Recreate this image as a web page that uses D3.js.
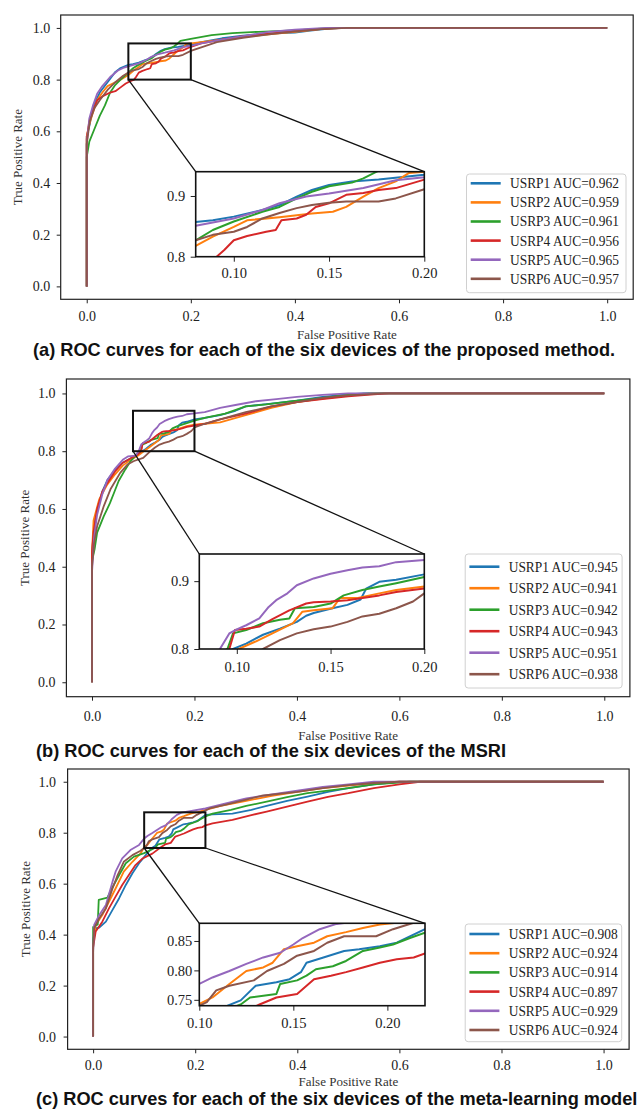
<!DOCTYPE html>
<html>
<head>
<meta charset="utf-8">
<script src="https://cdn.jsdelivr.net/npm/d3@7"></script>
<style>
  body { margin: 0; background: #fff; }
  svg { display: block; }
</style>
</head>
<body>
<script>
// size of the whole page
var svgWidth = 643;
var svgHeight = 1109;

// ---------- data ----------
var devices = ["USRP1", "USRP2", "USRP3", "USRP4", "USRP5", "USRP6"];
var colors = ["#1f77b4", "#ff7f0e", "#2ca02c", "#d62728", "#9467bd", "#8c564b"];

var aucA = [0.962, 0.959, 0.961, 0.956, 0.965, 0.957];
var aucB = [0.945, 0.941, 0.942, 0.943, 0.951, 0.938];
var aucC = [0.908, 0.924, 0.914, 0.897, 0.929, 0.924];

var captions = [
  "(a) ROC curves for each of the six devices of the proposed method.",
  "(b) ROC curves for each of the six devices of the MSRI",
  "(c) ROC curves for each of the six devices of the meta-learning model"
];

var mainTicks = [0.0, 0.2, 0.4, 0.6, 0.8, 1.0];
var zoomXTicks = [0.10, 0.15, 0.20];
var zoomYTicksAB = [0.8, 0.9];
var zoomYTicksC = [0.75, 0.80, 0.85];

// zoom windows [fpr range], [tpr range]
var zoomXA = [0.08, 0.20], zoomYA = [0.80, 0.94];
var zoomXB = [0.08, 0.20], zoomYB = [0.80, 0.94];
var zoomXC = [0.10, 0.22], zoomYC = [0.74, 0.88];

// ROC points [fpr, tpr], panel (a)
var rocA1 = [[0,0],[0,0.58],[0.005,0.62],[0.013,0.70],[0.025,0.75],[0.04,0.79],[0.055,0.83],[0.065,0.845],[0.08,0.857],[0.089,0.86],[0.10,0.866],[0.115,0.877],[0.124,0.885],[0.133,0.899],[0.141,0.91],[0.15,0.918],[0.162,0.924],[0.176,0.927],[0.2,0.935],[0.22,0.945],[0.26,0.96],[0.3,0.97],[0.35,0.978],[0.4,0.982],[0.43,0.99],[0.47,0.998],[0.5,1],[1,1]];
var rocA2 = [[0,0],[0,0.58],[0.004,0.62],[0.01,0.66],[0.02,0.72],[0.03,0.75],[0.04,0.775],[0.055,0.79],[0.065,0.80],[0.08,0.818],[0.089,0.833],[0.1,0.849],[0.107,0.86],[0.124,0.865],[0.141,0.871],[0.152,0.874],[0.159,0.882],[0.168,0.899],[0.176,0.913],[0.185,0.924],[0.192,0.938],[0.2,0.94],[0.22,0.945],[0.26,0.955],[0.3,0.965],[0.35,0.975],[0.4,0.985],[0.45,0.995],[0.48,1],[1,1]];
var rocA3 = [[0,0],[0,0.5],[0.005,0.56],[0.015,0.61],[0.025,0.66],[0.035,0.70],[0.045,0.75],[0.055,0.78],[0.065,0.80],[0.08,0.827],[0.089,0.844],[0.1,0.858],[0.115,0.874],[0.124,0.882],[0.133,0.896],[0.141,0.907],[0.15,0.916],[0.162,0.922],[0.168,0.929],[0.175,0.94],[0.18,0.95],[0.2,0.958],[0.24,0.972],[0.28,0.98],[0.33,0.985],[0.4,0.99],[0.45,0.997],[0.5,1],[1,1]];
var rocA4 = [[0,0],[0,0.57],[0.005,0.64],[0.012,0.68],[0.02,0.72],[0.03,0.735],[0.045,0.75],[0.055,0.755],[0.065,0.77],[0.075,0.785],[0.085,0.795],[0.091,0.8],[0.095,0.811],[0.1,0.827],[0.107,0.834],[0.117,0.841],[0.122,0.844],[0.125,0.86],[0.133,0.863],[0.138,0.869],[0.143,0.882],[0.15,0.888],[0.159,0.902],[0.168,0.905],[0.176,0.91],[0.185,0.913],[0.2,0.927],[0.22,0.94],[0.26,0.955],[0.3,0.968],[0.35,0.978],[0.4,0.988],[0.45,0.996],[0.5,1],[1,1]];
var rocA5 = [[0,0],[0,0.55],[0.005,0.65],[0.012,0.70],[0.02,0.745],[0.03,0.775],[0.045,0.81],[0.06,0.835],[0.07,0.845],[0.08,0.851],[0.1,0.863],[0.115,0.877],[0.124,0.888],[0.138,0.899],[0.15,0.904],[0.168,0.913],[0.185,0.926],[0.2,0.931],[0.22,0.94],[0.26,0.955],[0.3,0.968],[0.35,0.985],[0.4,0.993],[0.46,1],[1,1]];
var rocA6 = [[0,0],[0,0.55],[0.006,0.64],[0.015,0.69],[0.025,0.72],[0.04,0.76],[0.055,0.79],[0.07,0.815],[0.08,0.827],[0.089,0.836],[0.1,0.841],[0.107,0.849],[0.115,0.863],[0.124,0.872],[0.133,0.88],[0.141,0.885],[0.15,0.889],[0.159,0.891],[0.176,0.891],[0.185,0.896],[0.2,0.911],[0.22,0.925],[0.25,0.945],[0.3,0.962],[0.35,0.975],[0.4,0.987],[0.45,0.995],[0.5,1],[1,1]];

// panel (b)
var rocB1 = [[0,0],[0,0.45],[0.005,0.55],[0.01,0.6],[0.02,0.66],[0.03,0.7],[0.045,0.735],[0.06,0.76],[0.075,0.775],[0.09,0.79],[0.098,0.8],[0.105,0.808],[0.114,0.821],[0.123,0.83],[0.132,0.84],[0.137,0.849],[0.141,0.853],[0.151,0.86],[0.159,0.865],[0.166,0.873],[0.169,0.889],[0.176,0.899],[0.185,0.902],[0.2,0.91],[0.22,0.915],[0.25,0.925],[0.28,0.94],[0.3,0.955],[0.35,0.965],[0.4,0.975],[0.45,0.988],[0.5,0.997],[0.53,1],[1,1]];
var rocB2 = [[0,0],[0,0.45],[0.003,0.56],[0.007,0.587],[0.014,0.633],[0.03,0.685],[0.045,0.72],[0.06,0.75],[0.075,0.77],[0.09,0.785],[0.101,0.8],[0.11,0.811],[0.119,0.823],[0.13,0.838],[0.135,0.855],[0.141,0.857],[0.151,0.86],[0.155,0.875],[0.164,0.875],[0.176,0.882],[0.185,0.887],[0.2,0.892],[0.22,0.895],[0.25,0.9],[0.3,0.925],[0.35,0.95],[0.4,0.97],[0.45,0.982],[0.5,0.993],[0.55,1],[1,1]];
var rocB3 = [[0,0],[0,0.42],[0.005,0.46],[0.01,0.518],[0.023,0.575],[0.035,0.62],[0.043,0.656],[0.052,0.697],[0.065,0.737],[0.075,0.765],[0.085,0.785],[0.095,0.8],[0.098,0.823],[0.105,0.828],[0.114,0.838],[0.123,0.843],[0.128,0.845],[0.131,0.86],[0.141,0.862],[0.15,0.867],[0.157,0.879],[0.167,0.887],[0.176,0.892],[0.185,0.897],[0.2,0.906],[0.22,0.915],[0.26,0.93],[0.3,0.955],[0.34,0.962],[0.4,0.975],[0.45,0.985],[0.5,0.995],[0.54,1],[1,1]];
var rocB4 = [[0,0],[0,0.45],[0.003,0.52],[0.01,0.6],[0.02,0.66],[0.03,0.69],[0.045,0.73],[0.06,0.76],[0.075,0.775],[0.09,0.79],[0.096,0.8],[0.099,0.828],[0.105,0.83],[0.112,0.833],[0.119,0.844],[0.128,0.857],[0.137,0.867],[0.141,0.869],[0.15,0.87],[0.159,0.872],[0.167,0.875],[0.176,0.879],[0.185,0.884],[0.2,0.889],[0.22,0.895],[0.25,0.91],[0.3,0.93],[0.35,0.955],[0.4,0.97],[0.45,0.98],[0.5,0.99],[0.55,0.997],[0.58,1],[1,1]];
var rocB5 = [[0,0],[0,0.38],[0.004,0.5],[0.01,0.58],[0.02,0.65],[0.03,0.7],[0.045,0.74],[0.06,0.77],[0.07,0.782],[0.085,0.785],[0.091,0.8],[0.096,0.823],[0.1,0.829],[0.105,0.835],[0.112,0.845],[0.117,0.862],[0.121,0.872],[0.127,0.882],[0.132,0.894],[0.141,0.904],[0.15,0.911],[0.159,0.916],[0.167,0.92],[0.176,0.922],[0.185,0.928],[0.2,0.931],[0.22,0.935],[0.25,0.95],[0.28,0.96],[0.32,0.973],[0.36,0.98],[0.4,0.988],[0.45,0.995],[0.5,1],[1,1]];
var rocB6 = [[0,0],[0,0.4],[0.004,0.48],[0.01,0.54],[0.023,0.61],[0.036,0.668],[0.055,0.725],[0.07,0.755],[0.082,0.766],[0.1,0.777],[0.114,0.8],[0.123,0.813],[0.132,0.823],[0.141,0.829],[0.15,0.833],[0.159,0.84],[0.167,0.848],[0.176,0.852],[0.185,0.86],[0.194,0.87],[0.2,0.882],[0.22,0.895],[0.25,0.91],[0.3,0.935],[0.35,0.955],[0.4,0.97],[0.45,0.985],[0.5,0.993],[0.57,1],[1,1]];

// panel (c)
var rocC1 = [[0,0],[0,0.38],[0.005,0.425],[0.012,0.428],[0.025,0.451],[0.038,0.497],[0.051,0.543],[0.064,0.595],[0.077,0.641],[0.09,0.68],[0.103,0.712],[0.115,0.74],[0.122,0.749],[0.13,0.774],[0.141,0.78],[0.148,0.785],[0.154,0.797],[0.157,0.813],[0.166,0.822],[0.177,0.833],[0.185,0.836],[0.196,0.841],[0.205,0.847],[0.22,0.87],[0.234,0.872],[0.273,0.875],[0.31,0.89],[0.34,0.905],[0.38,0.925],[0.42,0.942],[0.46,0.96],[0.5,0.975],[0.55,0.99],[0.6,1],[1,1]];
var rocC2 = [[0,0],[0,0.36],[0.005,0.438],[0.018,0.477],[0.031,0.529],[0.044,0.581],[0.06,0.647],[0.077,0.686],[0.093,0.719],[0.1,0.743],[0.107,0.754],[0.116,0.777],[0.125,0.799],[0.134,0.805],[0.139,0.813],[0.145,0.836],[0.152,0.841],[0.161,0.847],[0.168,0.858],[0.178,0.865],[0.187,0.872],[0.196,0.878],[0.205,0.881],[0.22,0.89],[0.25,0.905],[0.3,0.925],[0.35,0.945],[0.4,0.96],[0.45,0.975],[0.5,0.985],[0.55,0.995],[0.6,1],[1,1]];
var rocC3 = [[0,0],[0,0.43],[0.009,0.44],[0.011,0.536],[0.028,0.545],[0.035,0.575],[0.051,0.634],[0.064,0.68],[0.08,0.706],[0.1,0.72],[0.116,0.735],[0.122,0.742],[0.127,0.754],[0.141,0.76],[0.143,0.777],[0.152,0.783],[0.157,0.791],[0.162,0.802],[0.171,0.807],[0.178,0.816],[0.187,0.833],[0.196,0.839],[0.203,0.844],[0.212,0.855],[0.22,0.864],[0.234,0.875],[0.27,0.89],[0.3,0.905],[0.34,0.922],[0.38,0.94],[0.42,0.955],[0.46,0.965],[0.5,0.975],[0.55,0.99],[0.62,1],[1,1]];
var rocC4 = [[0,0],[0,0.35],[0.005,0.412],[0.018,0.451],[0.031,0.503],[0.044,0.549],[0.057,0.595],[0.07,0.634],[0.083,0.673],[0.097,0.699],[0.116,0.718],[0.132,0.742],[0.141,0.754],[0.152,0.76],[0.161,0.785],[0.17,0.791],[0.178,0.797],[0.187,0.805],[0.196,0.813],[0.205,0.819],[0.214,0.822],[0.22,0.829],[0.234,0.837],[0.273,0.85],[0.31,0.869],[0.34,0.883],[0.38,0.902],[0.42,0.922],[0.46,0.941],[0.5,0.955],[0.55,0.975],[0.6,0.99],[0.64,1],[1,1]];
var rocC5 = [[0,0],[0,0.33],[0.002,0.438],[0.012,0.477],[0.025,0.516],[0.038,0.608],[0.044,0.647],[0.057,0.699],[0.073,0.732],[0.09,0.752],[0.1,0.777],[0.107,0.788],[0.116,0.799],[0.125,0.811],[0.134,0.822],[0.143,0.83],[0.15,0.844],[0.155,0.855],[0.164,0.87],[0.173,0.879],[0.178,0.881],[0.19,0.885],[0.22,0.895],[0.25,0.91],[0.3,0.935],[0.35,0.95],[0.4,0.965],[0.45,0.98],[0.5,0.99],[0.55,1],[1,1]];
var rocC6 = [[0,0],[0,0.34],[0.002,0.425],[0.012,0.464],[0.025,0.503],[0.038,0.581],[0.048,0.634],[0.06,0.686],[0.077,0.712],[0.093,0.729],[0.1,0.74],[0.104,0.746],[0.109,0.766],[0.116,0.774],[0.129,0.783],[0.136,0.799],[0.145,0.811],[0.152,0.825],[0.161,0.833],[0.168,0.847],[0.177,0.858],[0.194,0.858],[0.203,0.87],[0.214,0.881],[0.228,0.895],[0.26,0.91],[0.3,0.93],[0.33,0.945],[0.4,0.96],[0.45,0.975],[0.5,0.987],[0.55,0.995],[0.6,1],[1,1]];

// ---------- layout (pixels) ----------
var panels = [
  { roc: [rocA1, rocA2, rocA3, rocA4, rocA5, rocA6], auc: aucA,
    frame: [60.7, 15, 633.2, 299.3], yPad: 6.5, xPad: 8.2,
    yLabelX: 21.7, xLabelY: 338.5, capX: 33, capY: 356,
    zx: zoomXA, zy: zoomYA, zyTicks: zoomYTicksAB, zyFmt: ".1f",
    inset: [195.7, 171.7, 424.3, 256.7], insXPad: 6.2, insYPad: 5.5,
    legend: [466.5, 174, 626, 292.7], row0: 9.3, rowStep: 19.1 },
  { roc: [rocB1, rocB2, rocB3, rocB4, rocB5, rocB6], auc: aucB,
    frame: [66.4, 379, 629.9, 696.7], yPad: 7, xPad: 10.8,
    yLabelX: 29, xLabelY: 739.5, capX: 36, capY: 757,
    zx: zoomXB, zy: zoomYB, zyTicks: zoomYTicksAB, zyFmt: ".1f",
    inset: [199.3, 554, 424.3, 649], insXPad: 8.1, insYPad: 5.3,
    legend: [465.2, 554, 622.1, 688], row0: 12.7, rowStep: 21.5 },
  { roc: [rocC1, rocC2, rocC3, rocC4, rocC5, rocC6], auc: aucC,
    frame: [67.6, 769, 629.1, 1049.3], yPad: 7.5, xPad: 6.5,
    yLabelX: 30, xLabelY: 1086, capX: 36, capY: 1104.5,
    zx: zoomXC, zy: zoomYC, zyTicks: zoomYTicksC, zyFmt: ".2f",
    inset: [199.3, 923.3, 425, 1005.7], insXPad: 7.2, insYPad: 2,
    legend: [465.2, 924, 621.7, 1041.7], row0: 10, rowStep: 19.2 }
];

var serif = "'Liberation Serif', 'Times New Roman', serif";

var svg = d3.select("body")
  .append("svg")
  .attr("width", svgWidth)
  .attr("height", svgHeight);

function styleAxis(g, size) {
  g.select(".domain").remove();
  g.attr("font-family", serif).attr("font-size", size);
  g.selectAll(".tick line").attr("stroke", "#222").attr("stroke-width", 1);
  g.selectAll(".tick text").attr("fill", "#222");
}

panels.forEach(function(p, pi) {
  var f = p.frame;
  var g = svg.append("g");

  // Step 1: scales (matplotlib style 5% margin)
  var x = d3.scaleLinear().domain([-0.05, 1.05]).range([f[0], f[2]]);
  var y = d3.scaleLinear().domain([-0.05, 1.05]).range([f[3], f[1]]);

  var line = d3.line()
    .x(function(d) { return x(d[0]); })
    .y(function(d) { return y(d[1]); });

  // Step 2: curves
  g.append("g").selectAll("path")
    .data(p.roc)
    .enter()
    .append("path")
    .attr("d", line)
    .attr("fill", "none")
    .attr("stroke", function(d, i) { return colors[i]; })
    .attr("stroke-width", 1.8)
    .attr("stroke-linejoin", "round");

  // Step 3: axes + frame
  var xAxis = g.append("g")
    .attr("transform", "translate(0," + f[3] + ")")
    .call(d3.axisBottom(x).tickValues(mainTicks).tickFormat(d3.format(".1f"))
      .tickSize(4).tickSizeOuter(0).tickPadding(p.xPad));
  styleAxis(xAxis, 14);

  var yAxis = g.append("g")
    .attr("transform", "translate(" + f[0] + ",0)")
    .call(d3.axisLeft(y).tickValues(mainTicks).tickFormat(d3.format(".1f"))
      .tickSize(4).tickSizeOuter(0).tickPadding(p.yPad));
  styleAxis(yAxis, 14);

  g.append("rect")
    .attr("x", f[0]).attr("y", f[1])
    .attr("width", f[2] - f[0]).attr("height", f[3] - f[1])
    .attr("fill", "none").attr("stroke", "#222").attr("stroke-width", 1.2);

  // axis labels
  g.append("text")
    .attr("transform", "translate(" + p.yLabelX + "," + ((f[1] + f[3]) / 2) + ") rotate(-90)")
    .attr("text-anchor", "middle")
    .attr("font-family", serif).attr("font-size", 13).attr("fill", "#333")
    .text("True Positive Rate");

  g.append("text")
    .attr("x", (f[0] + f[2]) / 2).attr("y", p.xLabelY)
    .attr("text-anchor", "middle")
    .attr("font-family", serif).attr("font-size", 13).attr("fill", "#333")
    .text("False Positive Rate");

  // Step 4: zoom box and connectors
  var ins = p.inset;
  g.append("rect")
    .attr("x", x(p.zx[0])).attr("y", y(p.zy[1]))
    .attr("width", x(p.zx[1]) - x(p.zx[0]))
    .attr("height", y(p.zy[0]) - y(p.zy[1]))
    .attr("fill", "none").attr("stroke", "#111").attr("stroke-width", 2);

  g.append("line")
    .attr("x1", x(p.zx[0])).attr("y1", y(p.zy[0]))
    .attr("x2", ins[0]).attr("y2", ins[1])
    .attr("stroke", "#111").attr("stroke-width", 1.3);
  g.append("line")
    .attr("x1", x(p.zx[1])).attr("y1", y(p.zy[0]))
    .attr("x2", ins[2]).attr("y2", ins[1])
    .attr("stroke", "#111").attr("stroke-width", 1.3);

  // Step 5: inset axes
  var ix = d3.scaleLinear().domain(p.zx).range([ins[0], ins[2]]);
  var iy = d3.scaleLinear().domain(p.zy).range([ins[3], ins[1]]);
  var iline = d3.line()
    .x(function(d) { return ix(d[0]); })
    .y(function(d) { return iy(d[1]); });

  g.append("rect")
    .attr("x", ins[0]).attr("y", ins[1])
    .attr("width", ins[2] - ins[0]).attr("height", ins[3] - ins[1])
    .attr("fill", "#fff");

  var clipId = "clip" + pi;
  svg.append("clipPath").attr("id", clipId)
    .append("rect")
    .attr("x", ins[0]).attr("y", ins[1])
    .attr("width", ins[2] - ins[0]).attr("height", ins[3] - ins[1]);

  g.append("g").attr("clip-path", "url(#" + clipId + ")")
    .selectAll("path")
    .data(p.roc)
    .enter()
    .append("path")
    .attr("d", iline)
    .attr("fill", "none")
    .attr("stroke", function(d, i) { return colors[i]; })
    .attr("stroke-width", 2)
    .attr("stroke-linejoin", "round");

  var ixAxis = g.append("g")
    .attr("transform", "translate(0," + ins[3] + ")")
    .call(d3.axisBottom(ix).tickValues(zoomXTicks).tickFormat(d3.format(".2f"))
      .tickSize(5).tickSizeOuter(0).tickPadding(p.insXPad));
  styleAxis(ixAxis, 14.5);

  var iyAxis = g.append("g")
    .attr("transform", "translate(" + ins[0] + ",0)")
    .call(d3.axisLeft(iy).tickValues(p.zyTicks).tickFormat(d3.format(p.zyFmt))
      .tickSize(5).tickSizeOuter(0).tickPadding(p.insYPad));
  styleAxis(iyAxis, 14.5);

  g.append("rect")
    .attr("x", ins[0]).attr("y", ins[1])
    .attr("width", ins[2] - ins[0]).attr("height", ins[3] - ins[1])
    .attr("fill", "none").attr("stroke", "#111").attr("stroke-width", 1.6);

  // Step 6: legend
  var lg = p.legend;
  g.append("rect")
    .attr("x", lg[0]).attr("y", lg[1])
    .attr("width", lg[2] - lg[0]).attr("height", lg[3] - lg[1])
    .attr("rx", 3)
    .attr("fill", "#fff").attr("fill-opacity", 0.8)
    .attr("stroke", "#d0d0d0").attr("stroke-width", 1);

  var rows = g.append("g").selectAll("g")
    .data(devices)
    .enter()
    .append("g")
    .attr("transform", function(d, i) {
      return "translate(" + lg[0] + "," + (lg[1] + p.row0 + i * p.rowStep) + ")";
    });

  rows.append("line")
    .attr("x1", 4.2).attr("x2", 34.2)
    .attr("stroke", function(d, i) { return colors[i]; })
    .attr("stroke-width", 2.6);

  rows.append("text")
    .attr("x", 43.5)
    .attr("dy", "0.35em")
    .attr("font-family", serif).attr("font-size", 14).attr("fill", "#222")
    .attr("textLength", 109).attr("lengthAdjust", "spacingAndGlyphs")
    .text(function(d, i) { return d + " AUC=" + p.auc[i].toFixed(3); });

  // Step 7: caption
  svg.append("text")
    .attr("x", p.capX).attr("y", p.capY)
    .attr("font-family", "'Liberation Sans', Arial, sans-serif")
    .attr("font-weight", "bold").attr("font-size", 18.2).attr("fill", "#111")
    .text(captions[pi]);
});
</script>
</body>
</html>
